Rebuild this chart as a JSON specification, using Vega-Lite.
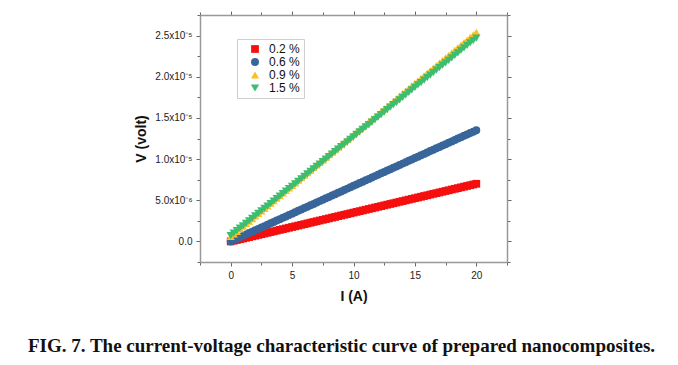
{
  "$schema": "https://vega.github.io/schema/vega-lite/v6.json",
  "width": 307,
  "height": 247,
  "autosize": "none",
  "padding": {"left": 200, "top": 15, "right": 171, "bottom": 103},
  "background": "white",
  "config": {
    "view": {"stroke": null},
    "font": "Liberation Sans"
  },
  "title": {
    "text": "FIG. 7. The current-voltage characteristic curve of prepared nanocomposites.",
    "orient": "bottom",
    "anchor": "middle",
    "font": "Liberation Serif",
    "fontSize": 19,
    "fontWeight": "bold",
    "color": "#111",
    "offset": 34,
    "dx": -12
  },
  "datasets": {
    "pts": [
      {"I":0,"V":0,"s":"0.2 %"},{"I":0.25,"V":0.088,"s":"0.2 %"},{"I":0.5,"V":0.175,"s":"0.2 %"},{"I":0.75,"V":0.263,"s":"0.2 %"},{"I":1,"V":0.35,"s":"0.2 %"},{"I":1.25,"V":0.438,"s":"0.2 %"},{"I":1.5,"V":0.525,"s":"0.2 %"},{"I":1.75,"V":0.613,"s":"0.2 %"},{"I":2,"V":0.7,"s":"0.2 %"},{"I":2.25,"V":0.788,"s":"0.2 %"},{"I":2.5,"V":0.875,"s":"0.2 %"},{"I":2.75,"V":0.963,"s":"0.2 %"},{"I":3,"V":1.05,"s":"0.2 %"},{"I":3.25,"V":1.138,"s":"0.2 %"},{"I":3.5,"V":1.225,"s":"0.2 %"},{"I":3.75,"V":1.313,"s":"0.2 %"},{"I":4,"V":1.4,"s":"0.2 %"},{"I":4.25,"V":1.488,"s":"0.2 %"},{"I":4.5,"V":1.575,"s":"0.2 %"},{"I":4.75,"V":1.663,"s":"0.2 %"},{"I":5,"V":1.75,"s":"0.2 %"},{"I":5.25,"V":1.838,"s":"0.2 %"},{"I":5.5,"V":1.925,"s":"0.2 %"},{"I":5.75,"V":2.013,"s":"0.2 %"},{"I":6,"V":2.1,"s":"0.2 %"},{"I":6.25,"V":2.188,"s":"0.2 %"},{"I":6.5,"V":2.275,"s":"0.2 %"},{"I":6.75,"V":2.363,"s":"0.2 %"},{"I":7,"V":2.45,"s":"0.2 %"},{"I":7.25,"V":2.538,"s":"0.2 %"},{"I":7.5,"V":2.625,"s":"0.2 %"},{"I":7.75,"V":2.713,"s":"0.2 %"},{"I":8,"V":2.8,"s":"0.2 %"},{"I":8.25,"V":2.888,"s":"0.2 %"},{"I":8.5,"V":2.975,"s":"0.2 %"},{"I":8.75,"V":3.063,"s":"0.2 %"},{"I":9,"V":3.15,"s":"0.2 %"},{"I":9.25,"V":3.238,"s":"0.2 %"},{"I":9.5,"V":3.325,"s":"0.2 %"},{"I":9.75,"V":3.413,"s":"0.2 %"},{"I":10,"V":3.5,"s":"0.2 %"},{"I":10.25,"V":3.588,"s":"0.2 %"},{"I":10.5,"V":3.675,"s":"0.2 %"},{"I":10.75,"V":3.763,"s":"0.2 %"},{"I":11,"V":3.85,"s":"0.2 %"},{"I":11.25,"V":3.938,"s":"0.2 %"},{"I":11.5,"V":4.025,"s":"0.2 %"},{"I":11.75,"V":4.113,"s":"0.2 %"},{"I":12,"V":4.2,"s":"0.2 %"},{"I":12.25,"V":4.288,"s":"0.2 %"},{"I":12.5,"V":4.375,"s":"0.2 %"},{"I":12.75,"V":4.463,"s":"0.2 %"},{"I":13,"V":4.55,"s":"0.2 %"},{"I":13.25,"V":4.638,"s":"0.2 %"},{"I":13.5,"V":4.725,"s":"0.2 %"},{"I":13.75,"V":4.813,"s":"0.2 %"},{"I":14,"V":4.9,"s":"0.2 %"},{"I":14.25,"V":4.988,"s":"0.2 %"},{"I":14.5,"V":5.075,"s":"0.2 %"},{"I":14.75,"V":5.163,"s":"0.2 %"},{"I":15,"V":5.25,"s":"0.2 %"},{"I":15.25,"V":5.338,"s":"0.2 %"},{"I":15.5,"V":5.425,"s":"0.2 %"},{"I":15.75,"V":5.513,"s":"0.2 %"},{"I":16,"V":5.6,"s":"0.2 %"},{"I":16.25,"V":5.688,"s":"0.2 %"},{"I":16.5,"V":5.775,"s":"0.2 %"},{"I":16.75,"V":5.863,"s":"0.2 %"},{"I":17,"V":5.95,"s":"0.2 %"},{"I":17.25,"V":6.038,"s":"0.2 %"},{"I":17.5,"V":6.125,"s":"0.2 %"},{"I":17.75,"V":6.213,"s":"0.2 %"},{"I":18,"V":6.3,"s":"0.2 %"},{"I":18.25,"V":6.388,"s":"0.2 %"},{"I":18.5,"V":6.475,"s":"0.2 %"},{"I":18.75,"V":6.563,"s":"0.2 %"},{"I":19,"V":6.65,"s":"0.2 %"},{"I":19.25,"V":6.738,"s":"0.2 %"},{"I":19.5,"V":6.825,"s":"0.2 %"},{"I":19.75,"V":6.913,"s":"0.2 %"},{"I":20,"V":7.0,"s":"0.2 %"},
      {"I":0,"V":0,"s":"0.6 %"},{"I":0.25,"V":0.169,"s":"0.6 %"},{"I":0.5,"V":0.338,"s":"0.6 %"},{"I":0.75,"V":0.506,"s":"0.6 %"},{"I":1,"V":0.675,"s":"0.6 %"},{"I":1.25,"V":0.844,"s":"0.6 %"},{"I":1.5,"V":1.013,"s":"0.6 %"},{"I":1.75,"V":1.181,"s":"0.6 %"},{"I":2,"V":1.35,"s":"0.6 %"},{"I":2.25,"V":1.519,"s":"0.6 %"},{"I":2.5,"V":1.688,"s":"0.6 %"},{"I":2.75,"V":1.856,"s":"0.6 %"},{"I":3,"V":2.025,"s":"0.6 %"},{"I":3.25,"V":2.194,"s":"0.6 %"},{"I":3.5,"V":2.363,"s":"0.6 %"},{"I":3.75,"V":2.531,"s":"0.6 %"},{"I":4,"V":2.7,"s":"0.6 %"},{"I":4.25,"V":2.869,"s":"0.6 %"},{"I":4.5,"V":3.038,"s":"0.6 %"},{"I":4.75,"V":3.206,"s":"0.6 %"},{"I":5,"V":3.375,"s":"0.6 %"},{"I":5.25,"V":3.544,"s":"0.6 %"},{"I":5.5,"V":3.713,"s":"0.6 %"},{"I":5.75,"V":3.881,"s":"0.6 %"},{"I":6,"V":4.05,"s":"0.6 %"},{"I":6.25,"V":4.219,"s":"0.6 %"},{"I":6.5,"V":4.388,"s":"0.6 %"},{"I":6.75,"V":4.556,"s":"0.6 %"},{"I":7,"V":4.725,"s":"0.6 %"},{"I":7.25,"V":4.894,"s":"0.6 %"},{"I":7.5,"V":5.063,"s":"0.6 %"},{"I":7.75,"V":5.231,"s":"0.6 %"},{"I":8,"V":5.4,"s":"0.6 %"},{"I":8.25,"V":5.569,"s":"0.6 %"},{"I":8.5,"V":5.738,"s":"0.6 %"},{"I":8.75,"V":5.906,"s":"0.6 %"},{"I":9,"V":6.075,"s":"0.6 %"},{"I":9.25,"V":6.244,"s":"0.6 %"},{"I":9.5,"V":6.413,"s":"0.6 %"},{"I":9.75,"V":6.581,"s":"0.6 %"},{"I":10,"V":6.75,"s":"0.6 %"},{"I":10.25,"V":6.919,"s":"0.6 %"},{"I":10.5,"V":7.088,"s":"0.6 %"},{"I":10.75,"V":7.256,"s":"0.6 %"},{"I":11,"V":7.425,"s":"0.6 %"},{"I":11.25,"V":7.594,"s":"0.6 %"},{"I":11.5,"V":7.763,"s":"0.6 %"},{"I":11.75,"V":7.931,"s":"0.6 %"},{"I":12,"V":8.1,"s":"0.6 %"},{"I":12.25,"V":8.269,"s":"0.6 %"},{"I":12.5,"V":8.438,"s":"0.6 %"},{"I":12.75,"V":8.606,"s":"0.6 %"},{"I":13,"V":8.775,"s":"0.6 %"},{"I":13.25,"V":8.944,"s":"0.6 %"},{"I":13.5,"V":9.113,"s":"0.6 %"},{"I":13.75,"V":9.281,"s":"0.6 %"},{"I":14,"V":9.45,"s":"0.6 %"},{"I":14.25,"V":9.619,"s":"0.6 %"},{"I":14.5,"V":9.788,"s":"0.6 %"},{"I":14.75,"V":9.956,"s":"0.6 %"},{"I":15,"V":10.125,"s":"0.6 %"},{"I":15.25,"V":10.294,"s":"0.6 %"},{"I":15.5,"V":10.463,"s":"0.6 %"},{"I":15.75,"V":10.631,"s":"0.6 %"},{"I":16,"V":10.8,"s":"0.6 %"},{"I":16.25,"V":10.969,"s":"0.6 %"},{"I":16.5,"V":11.138,"s":"0.6 %"},{"I":16.75,"V":11.306,"s":"0.6 %"},{"I":17,"V":11.475,"s":"0.6 %"},{"I":17.25,"V":11.644,"s":"0.6 %"},{"I":17.5,"V":11.813,"s":"0.6 %"},{"I":17.75,"V":11.981,"s":"0.6 %"},{"I":18,"V":12.15,"s":"0.6 %"},{"I":18.25,"V":12.319,"s":"0.6 %"},{"I":18.5,"V":12.488,"s":"0.6 %"},{"I":18.75,"V":12.656,"s":"0.6 %"},{"I":19,"V":12.825,"s":"0.6 %"},{"I":19.25,"V":12.994,"s":"0.6 %"},{"I":19.5,"V":13.163,"s":"0.6 %"},{"I":19.75,"V":13.331,"s":"0.6 %"},{"I":20,"V":13.5,"s":"0.6 %"},
      {"I":0,"V":0.6,"s":"0.9 %"},{"I":0.25,"V":0.91,"s":"0.9 %"},{"I":0.5,"V":1.22,"s":"0.9 %"},{"I":0.75,"V":1.53,"s":"0.9 %"},{"I":1,"V":1.84,"s":"0.9 %"},{"I":1.25,"V":2.15,"s":"0.9 %"},{"I":1.5,"V":2.46,"s":"0.9 %"},{"I":1.75,"V":2.77,"s":"0.9 %"},{"I":2,"V":3.08,"s":"0.9 %"},{"I":2.25,"V":3.39,"s":"0.9 %"},{"I":2.5,"V":3.7,"s":"0.9 %"},{"I":2.75,"V":4.01,"s":"0.9 %"},{"I":3,"V":4.32,"s":"0.9 %"},{"I":3.25,"V":4.63,"s":"0.9 %"},{"I":3.5,"V":4.94,"s":"0.9 %"},{"I":3.75,"V":5.25,"s":"0.9 %"},{"I":4,"V":5.56,"s":"0.9 %"},{"I":4.25,"V":5.87,"s":"0.9 %"},{"I":4.5,"V":6.18,"s":"0.9 %"},{"I":4.75,"V":6.49,"s":"0.9 %"},{"I":5,"V":6.8,"s":"0.9 %"},{"I":5.25,"V":7.11,"s":"0.9 %"},{"I":5.5,"V":7.42,"s":"0.9 %"},{"I":5.75,"V":7.73,"s":"0.9 %"},{"I":6,"V":8.04,"s":"0.9 %"},{"I":6.25,"V":8.35,"s":"0.9 %"},{"I":6.5,"V":8.66,"s":"0.9 %"},{"I":6.75,"V":8.97,"s":"0.9 %"},{"I":7,"V":9.28,"s":"0.9 %"},{"I":7.25,"V":9.59,"s":"0.9 %"},{"I":7.5,"V":9.9,"s":"0.9 %"},{"I":7.75,"V":10.21,"s":"0.9 %"},{"I":8,"V":10.52,"s":"0.9 %"},{"I":8.25,"V":10.83,"s":"0.9 %"},{"I":8.5,"V":11.14,"s":"0.9 %"},{"I":8.75,"V":11.45,"s":"0.9 %"},{"I":9,"V":11.76,"s":"0.9 %"},{"I":9.25,"V":12.07,"s":"0.9 %"},{"I":9.5,"V":12.38,"s":"0.9 %"},{"I":9.75,"V":12.69,"s":"0.9 %"},{"I":10,"V":13.0,"s":"0.9 %"},{"I":10.25,"V":13.31,"s":"0.9 %"},{"I":10.5,"V":13.62,"s":"0.9 %"},{"I":10.75,"V":13.93,"s":"0.9 %"},{"I":11,"V":14.24,"s":"0.9 %"},{"I":11.25,"V":14.55,"s":"0.9 %"},{"I":11.5,"V":14.86,"s":"0.9 %"},{"I":11.75,"V":15.17,"s":"0.9 %"},{"I":12,"V":15.48,"s":"0.9 %"},{"I":12.25,"V":15.79,"s":"0.9 %"},{"I":12.5,"V":16.1,"s":"0.9 %"},{"I":12.75,"V":16.41,"s":"0.9 %"},{"I":13,"V":16.72,"s":"0.9 %"},{"I":13.25,"V":17.03,"s":"0.9 %"},{"I":13.5,"V":17.34,"s":"0.9 %"},{"I":13.75,"V":17.65,"s":"0.9 %"},{"I":14,"V":17.96,"s":"0.9 %"},{"I":14.25,"V":18.27,"s":"0.9 %"},{"I":14.5,"V":18.58,"s":"0.9 %"},{"I":14.75,"V":18.89,"s":"0.9 %"},{"I":15,"V":19.2,"s":"0.9 %"},{"I":15.25,"V":19.51,"s":"0.9 %"},{"I":15.5,"V":19.82,"s":"0.9 %"},{"I":15.75,"V":20.13,"s":"0.9 %"},{"I":16,"V":20.44,"s":"0.9 %"},{"I":16.25,"V":20.75,"s":"0.9 %"},{"I":16.5,"V":21.06,"s":"0.9 %"},{"I":16.75,"V":21.37,"s":"0.9 %"},{"I":17,"V":21.68,"s":"0.9 %"},{"I":17.25,"V":21.99,"s":"0.9 %"},{"I":17.5,"V":22.3,"s":"0.9 %"},{"I":17.75,"V":22.61,"s":"0.9 %"},{"I":18,"V":22.92,"s":"0.9 %"},{"I":18.25,"V":23.23,"s":"0.9 %"},{"I":18.5,"V":23.54,"s":"0.9 %"},{"I":18.75,"V":23.85,"s":"0.9 %"},{"I":19,"V":24.16,"s":"0.9 %"},{"I":19.25,"V":24.47,"s":"0.9 %"},{"I":19.5,"V":24.78,"s":"0.9 %"},{"I":19.75,"V":25.09,"s":"0.9 %"},{"I":20,"V":25.4,"s":"0.9 %"},
      {"I":0,"V":0.7,"s":"1.5 %"},{"I":0.25,"V":1.0,"s":"1.5 %"},{"I":0.5,"V":1.3,"s":"1.5 %"},{"I":0.75,"V":1.6,"s":"1.5 %"},{"I":1,"V":1.9,"s":"1.5 %"},{"I":1.25,"V":2.2,"s":"1.5 %"},{"I":1.5,"V":2.5,"s":"1.5 %"},{"I":1.75,"V":2.8,"s":"1.5 %"},{"I":2,"V":3.1,"s":"1.5 %"},{"I":2.25,"V":3.4,"s":"1.5 %"},{"I":2.5,"V":3.7,"s":"1.5 %"},{"I":2.75,"V":4.0,"s":"1.5 %"},{"I":3,"V":4.3,"s":"1.5 %"},{"I":3.25,"V":4.6,"s":"1.5 %"},{"I":3.5,"V":4.9,"s":"1.5 %"},{"I":3.75,"V":5.2,"s":"1.5 %"},{"I":4,"V":5.5,"s":"1.5 %"},{"I":4.25,"V":5.8,"s":"1.5 %"},{"I":4.5,"V":6.1,"s":"1.5 %"},{"I":4.75,"V":6.4,"s":"1.5 %"},{"I":5,"V":6.7,"s":"1.5 %"},{"I":5.25,"V":7.0,"s":"1.5 %"},{"I":5.5,"V":7.3,"s":"1.5 %"},{"I":5.75,"V":7.6,"s":"1.5 %"},{"I":6,"V":7.9,"s":"1.5 %"},{"I":6.25,"V":8.2,"s":"1.5 %"},{"I":6.5,"V":8.5,"s":"1.5 %"},{"I":6.75,"V":8.8,"s":"1.5 %"},{"I":7,"V":9.1,"s":"1.5 %"},{"I":7.25,"V":9.4,"s":"1.5 %"},{"I":7.5,"V":9.7,"s":"1.5 %"},{"I":7.75,"V":10.0,"s":"1.5 %"},{"I":8,"V":10.3,"s":"1.5 %"},{"I":8.25,"V":10.6,"s":"1.5 %"},{"I":8.5,"V":10.9,"s":"1.5 %"},{"I":8.75,"V":11.2,"s":"1.5 %"},{"I":9,"V":11.5,"s":"1.5 %"},{"I":9.25,"V":11.8,"s":"1.5 %"},{"I":9.5,"V":12.1,"s":"1.5 %"},{"I":9.75,"V":12.4,"s":"1.5 %"},{"I":10,"V":12.7,"s":"1.5 %"},{"I":10.25,"V":13.0,"s":"1.5 %"},{"I":10.5,"V":13.3,"s":"1.5 %"},{"I":10.75,"V":13.6,"s":"1.5 %"},{"I":11,"V":13.9,"s":"1.5 %"},{"I":11.25,"V":14.2,"s":"1.5 %"},{"I":11.5,"V":14.5,"s":"1.5 %"},{"I":11.75,"V":14.8,"s":"1.5 %"},{"I":12,"V":15.1,"s":"1.5 %"},{"I":12.25,"V":15.4,"s":"1.5 %"},{"I":12.5,"V":15.7,"s":"1.5 %"},{"I":12.75,"V":16.0,"s":"1.5 %"},{"I":13,"V":16.3,"s":"1.5 %"},{"I":13.25,"V":16.6,"s":"1.5 %"},{"I":13.5,"V":16.9,"s":"1.5 %"},{"I":13.75,"V":17.2,"s":"1.5 %"},{"I":14,"V":17.5,"s":"1.5 %"},{"I":14.25,"V":17.8,"s":"1.5 %"},{"I":14.5,"V":18.1,"s":"1.5 %"},{"I":14.75,"V":18.4,"s":"1.5 %"},{"I":15,"V":18.7,"s":"1.5 %"},{"I":15.25,"V":19.0,"s":"1.5 %"},{"I":15.5,"V":19.3,"s":"1.5 %"},{"I":15.75,"V":19.6,"s":"1.5 %"},{"I":16,"V":19.9,"s":"1.5 %"},{"I":16.25,"V":20.2,"s":"1.5 %"},{"I":16.5,"V":20.5,"s":"1.5 %"},{"I":16.75,"V":20.8,"s":"1.5 %"},{"I":17,"V":21.1,"s":"1.5 %"},{"I":17.25,"V":21.4,"s":"1.5 %"},{"I":17.5,"V":21.7,"s":"1.5 %"},{"I":17.75,"V":22.0,"s":"1.5 %"},{"I":18,"V":22.3,"s":"1.5 %"},{"I":18.25,"V":22.6,"s":"1.5 %"},{"I":18.5,"V":22.9,"s":"1.5 %"},{"I":18.75,"V":23.2,"s":"1.5 %"},{"I":19,"V":23.5,"s":"1.5 %"},{"I":19.25,"V":23.8,"s":"1.5 %"},{"I":19.5,"V":24.1,"s":"1.5 %"},{"I":19.75,"V":24.4,"s":"1.5 %"},{"I":20,"V":24.7,"s":"1.5 %"}
    ]
  },
  "data": {"name": "pts"},
  "resolve": {"axis": {"x": "independent", "y": "independent"}},
  "layer": [
    {
      "mark": {"type": "point", "filled": true, "opacity": 1, "strokeWidth": 0},
      "encoding": {
        "x": {
          "field": "I", "type": "quantitative",
          "scale": {"domain": [-2.5, 22.5], "nice": false, "zero": false},
          "axis": {
            "orient": "bottom",
            "title": "I (A)",
            "titleFont": "Liberation Sans", "titleFontSize": 14, "titleFontWeight": "bold", "titleColor": "#111",
            "titlePadding": 9,
            "values": [-2.5, 0, 2.5, 5, 7.5, 10, 12.5, 15, 17.5, 20, 22.5],
            "labelExpr": "datum.value % 5 == 0 ? format(datum.value, 'd') : ''",
            "labelFontSize": 10, "labelColor": "#222", "labelPadding": 4,
            "domainColor": "#999", "domainWidth": 1.5,
            "tickColor": "#666", "tickWidth": 1,
            "tickSize": {"condition": {"test": "datum.value % 5 == 0", "value": 4}, "value": 3},
            "grid": false
          }
        },
        "y": {
          "field": "V", "type": "quantitative",
          "scale": {"domain": [-2.5, 27.5], "nice": false, "zero": false},
          "axis": {
            "orient": "left",
            "title": "V (volt)",
            "titleFont": "Liberation Sans", "titleFontSize": 14, "titleFontWeight": "bold", "titleColor": "#111",
            "titlePadding": 6,
            "values": [-2.5, 0, 2.5, 5, 7.5, 10, 12.5, 15, 17.5, 20, 22.5, 25, 27.5],
            "labelExpr": "datum.value == 0 ? '0.0' : (datum.value % 5 != 0 || datum.value < 0) ? '' : datum.value < 10 ? format(datum.value, '.1f') + 'x10⁻⁶' : format(datum.value / 10, '.1f') + 'x10⁻⁵'",
            "labelFontSize": 10, "labelColor": "#222", "labelPadding": 4,
            "domainColor": "#999", "domainWidth": 1.5,
            "tickColor": "#666", "tickWidth": 1,
            "tickSize": {"condition": {"test": "datum.value % 5 == 0", "value": 4}, "value": 3},
            "grid": false
          }
        },
        "color": {
          "field": "s", "type": "nominal",
          "scale": {"domain": ["0.2 %", "0.6 %", "0.9 %", "1.5 %"], "range": ["#f50f0f", "#38659a", "#fdbf22", "#3dbd6f"]},
          "legend": {
            "orient": "none", "legendX": 37, "legendY": 24,
            "title": null,
            "strokeColor": "#cfcfcf", "fillColor": "white",
            "padding": 4, "symbolOffset": 8, "labelOffset": 8,
            "labelFontSize": 12, "labelColor": "#111", "labelFont": "Liberation Sans",
            "symbolSize": 45, "rowPadding": 1
          }
        },
        "shape": {
          "field": "s", "type": "nominal",
          "scale": {"domain": ["0.2 %", "0.6 %", "0.9 %", "1.5 %"], "range": ["square", "circle", "triangle-up", "triangle-down"]}
        },
        "size": {
          "field": "s", "type": "nominal", "legend": null,
          "scale": {"domain": ["0.2 %", "0.6 %", "0.9 %", "1.5 %"], "range": [60, 70, 115, 115]}
        }
      }
    },
    {
      "mark": {"type": "point", "opacity": 0},
      "encoding": {
        "x": {
          "field": "I", "type": "quantitative",
          "axis": {
            "orient": "top", "title": null, "labels": false,
            "values": [-2.5, 0, 2.5, 5, 7.5, 10, 12.5, 15, 17.5, 20, 22.5],
            "domainColor": "#999", "domainWidth": 1.5,
            "tickColor": "#666", "tickWidth": 1,
            "tickSize": {"condition": {"test": "datum.value % 5 == 0", "value": 4}, "value": 3},
            "grid": false
          }
        },
        "y": {
          "field": "V", "type": "quantitative",
          "axis": {
            "orient": "right", "title": null, "labels": false,
            "values": [-2.5, 0, 2.5, 5, 7.5, 10, 12.5, 15, 17.5, 20, 22.5, 25, 27.5],
            "domainColor": "#999", "domainWidth": 1.5,
            "tickColor": "#666", "tickWidth": 1,
            "tickSize": {"condition": {"test": "datum.value % 5 == 0", "value": 4}, "value": 3},
            "grid": false
          }
        }
      }
    }
  ]
}
